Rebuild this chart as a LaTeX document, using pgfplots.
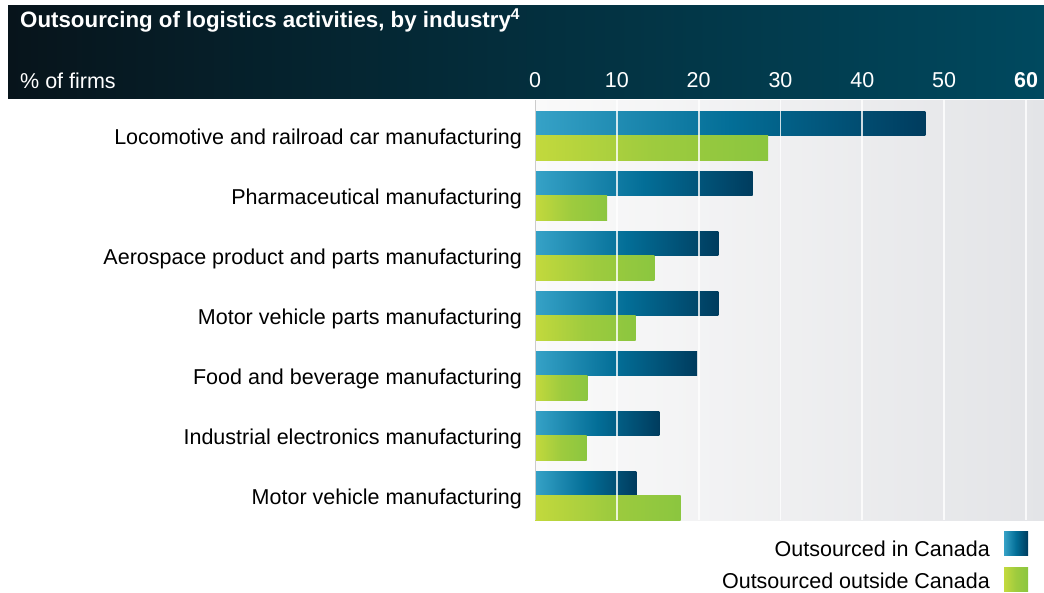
\documentclass[border=0pt]{standalone}
\usepackage{pgfplots}
\pgfplotsset{compat=1.18}
\usepackage{fontspec}
\setmainfont{Liberation Sans}

\definecolor{hdrL}{HTML}{07141B}
\definecolor{hdrR}{HTML}{00495F}
\definecolor{blueL}{HTML}{36A2C7}
\definecolor{blueM}{HTML}{036E97}
\definecolor{blueD}{HTML}{003C5E}
\definecolor{greenL}{HTML}{C3D93D}
\definecolor{greenM}{HTML}{9ECB3E}
\definecolor{greenD}{HTML}{8BC63F}
\definecolor{bgL}{HTML}{FAFAFA}
\definecolor{bgR}{HTML}{E3E4E7}

\newcommand{\txt}{\fontsize{21.5}{24}\selectfont}

% one plot per bar, so that each bar gets its own gradient
\pgfplotsset{
  inCanada/.style={draw=none, left color=blueL, right color=blueD, middle color=blueM, bar shift=12.25pt},
  outCanada/.style={draw=none, left color=greenL, right color=greenD, middle color=greenM, bar shift=-12.25pt},
}

\begin{document}
\begin{tikzpicture}
\useasboundingbox (0pt,0pt) rectangle (1044pt,-592pt);
\fill[left color=hdrL, right color=hdrR] (8pt,-5pt) rectangle (1044pt,-98pt);
\node[anchor=base west, text=white, inner sep=0pt, font=\fontsize{22.3}{24}\selectfont\bfseries]
  at (20pt,-27.5pt) {Outsourcing of logistics activities, by industry\textsuperscript{4}};
\node[anchor=base west, text=white, inner sep=0pt, font=\txt] at (20pt,-88pt) {\% of firms};

\begin{axis}[
  at={(535pt,-520pt)}, anchor=south west,
  scale only axis, width=509pt, height=420pt,
  xmin=0, xmax=62.2, ymin=-0.4083, ymax=6.5917,
  xbar, bar width=24.5pt,
  axis line style={draw=none},
  axis background/.style={left color=bgL, right color=bgR},
  axis on top,
  xmajorgrids, grid style={white, line width=1.8pt, opacity=0.8},
  major tick length=0pt,
  xtick={0,10,...,60},
  xticklabels={0,10,20,30,40,50,\textbf{60}},
  xticklabel pos=right,
  xticklabel style={text=white, anchor=base, inner sep=0pt, yshift=12.3pt, font=\txt},
  /pgf/number format/assume math mode=true,
  ytick={0,...,6},
  yticklabels={Motor vehicle manufacturing, Industrial electronics manufacturing,
    Food and beverage manufacturing, Motor vehicle parts manufacturing,
    Aerospace product and parts manufacturing, Pharmaceutical manufacturing,
    Locomotive and railroad car manufacturing},
  yticklabel style={anchor=east, inner sep=0pt, xshift=-13pt, yshift=-3.5pt, font=\txt},
]
% Outsourced in Canada
\addplot[inCanada] coordinates {(47.7,6)};
\addplot[inCanada] coordinates {(26.6,5)};
\addplot[inCanada] coordinates {(22.4,4)};
\addplot[inCanada] coordinates {(22.4,3)};
\addplot[inCanada] coordinates {(19.8,2)};
\addplot[inCanada] coordinates {(15.2,1)};
\addplot[inCanada] coordinates {(12.4,0)};
% Outsourced outside Canada
\addplot[outCanada] coordinates {(28.5,6)};
\addplot[outCanada] coordinates {(8.8,5)};
\addplot[outCanada] coordinates {(14.6,4)};
\addplot[outCanada] coordinates {(12.3,3)};
\addplot[outCanada] coordinates {(6.4,2)};
\addplot[outCanada] coordinates {(6.3,1)};
\addplot[outCanada] coordinates {(17.8,0)};
\draw[black, line width=1.3pt] (axis cs:0,-0.4083) -- (axis cs:0,6.5917);
\end{axis}

% legend
\fill[left color=blueL, right color=blueD, middle color=blueM] (1004pt,-531pt) rectangle (1028pt,-555.5pt);
\node[anchor=base east, inner sep=0pt, font=\txt] at (990pt,-556pt) {Outsourced in Canada};
\fill[left color=greenL, right color=greenD, middle color=greenM] (1004pt,-567pt) rectangle (1028pt,-591.5pt);
\node[anchor=base east, inner sep=0pt, font=\txt] at (990pt,-588.5pt) {Outsourced outside Canada};
\end{tikzpicture}
\end{document}
